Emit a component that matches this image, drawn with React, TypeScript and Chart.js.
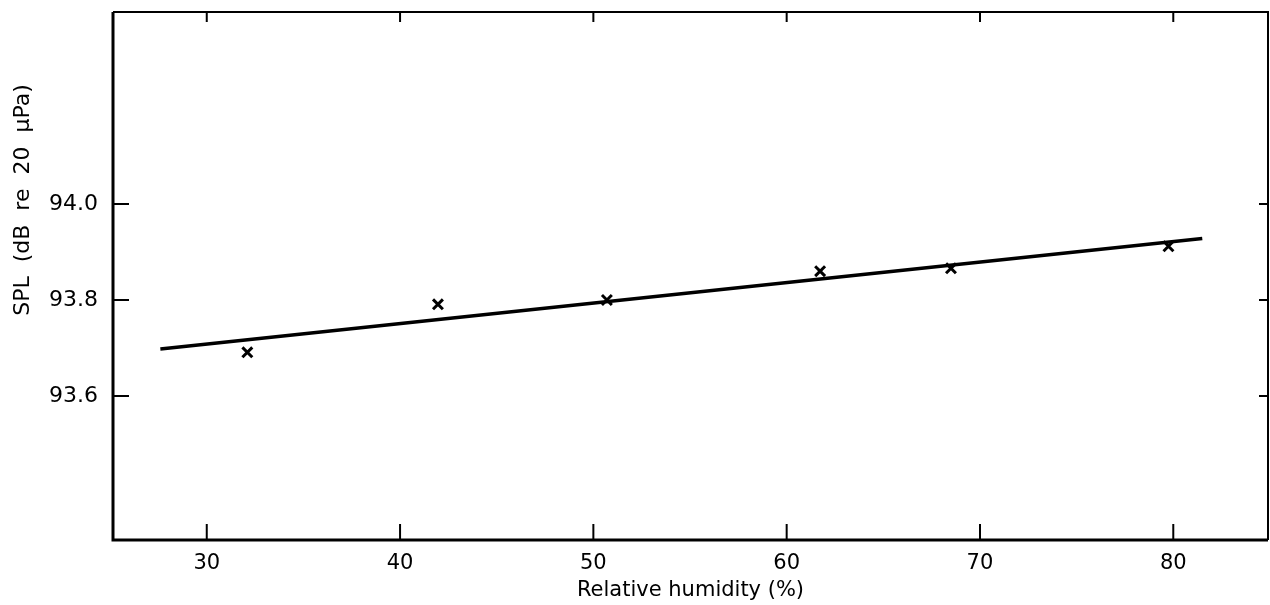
import React, { useEffect, useRef } from "react";
import { Chart, registerables } from "chart.js";

Chart.register(...registerables);

// Data
const humidity = [32.1, 41.96, 50.7, 61.73, 68.5, 79.75];
const spl = [93.691, 93.791, 93.8, 93.86, 93.866, 93.912];
// Fitted line end points
const fitX = [27.6, 81.5];
const fitY = [93.698, 93.928];
// Tick values
const xTicks = [30, 40, 50, 60, 70, 80];
const yTicks = [93.6, 93.8, 94.0];

const FONT = "'DejaVu Sans', sans-serif";

const framePlugin = {
  id: "frameAndTicks",
  afterDraw(chart: any) {
    const { ctx, chartArea, scales } = chart;
    const { left, right, top, bottom } = chartArea;
    ctx.save();
    ctx.strokeStyle = "#000";
    ctx.lineCap = "butt";
    // frame
    ctx.lineWidth = 3;
    ctx.beginPath();
    ctx.moveTo(left, top);
    ctx.lineTo(left, bottom);
    ctx.lineTo(right, bottom);
    ctx.stroke();
    ctx.lineWidth = 2;
    ctx.beginPath();
    ctx.moveTo(left, top);
    ctx.lineTo(right, top);
    ctx.lineTo(right, bottom);
    ctx.stroke();
    // x ticks (inward)
    ctx.lineWidth = 2;
    for (const v of xTicks) {
      const px = scales.x.getPixelForValue(v);
      ctx.beginPath();
      ctx.moveTo(px, bottom);
      ctx.lineTo(px, bottom - 16);
      ctx.stroke();
      ctx.beginPath();
      ctx.moveTo(px, top);
      ctx.lineTo(px, top + 10);
      ctx.stroke();
    }
    for (const v of yTicks) {
      const py = scales.y.getPixelForValue(v);
      ctx.beginPath();
      ctx.moveTo(left, py);
      ctx.lineTo(left + 16, py);
      ctx.stroke();
      ctx.beginPath();
      ctx.moveTo(right, py);
      ctx.lineTo(right - 9, py);
      ctx.stroke();
    }
    // y axis title
    ctx.fillStyle = "#000";
    ctx.font = `22px ${FONT}`;
    ctx.textAlign = "center";
    ctx.textBaseline = "middle";
    ctx.translate(23, 200);
    ctx.rotate(-Math.PI / 2);
    ctx.fillText("SPL  (dB  re  20  μPa)", 0, 0);
    ctx.restore();
  },
};

export default function App() {
  const ref = useRef<HTMLCanvasElement>(null);
  useEffect(() => {
    document.body.style.margin = "0";
    const canvas = ref.current!;
    const chart = new Chart(canvas, {
      type: "scatter",
      data: {
        datasets: [
          {
            type: "line",
            data: fitX.map((x, i) => ({ x, y: fitY[i] })),
            borderColor: "#000",
            borderWidth: 3.5,
            pointRadius: 0,
            fill: false,
          } as any,
          {
            type: "scatter",
            data: humidity.map((x, i) => ({ x, y: spl[i] })),
            pointStyle: "crossRot",
            pointRadius: 7,
            borderColor: "#000",
            borderWidth: 3,
            backgroundColor: "#000",
          } as any,
        ],
      },
      options: {
        responsive: false,
        animation: false,
        events: [],
        layout: { autoPadding: false, padding: { top: 12, right: 2, left: 0, bottom: 0 } },
        plugins: { legend: { display: false }, tooltip: { enabled: false } },
        scales: {
          x: {
            type: "linear",
            min: 25.15,
            max: 84.9,
            afterBuildTicks: (s: any) => {
              s.ticks = xTicks.map((v) => ({ value: v }));
            },
            afterFit: (s: any) => {
              s.height = 65;
              s.paddingLeft = 0;
              s.paddingRight = 0;
            },
            grid: { display: false },
            border: { display: false },
            ticks: {
              color: "#000",
              font: { family: FONT, size: 21 },
              padding: 3,
              maxRotation: 0,
              callback: (v: any) => String(v),
            },
            title: {
              display: true,
              text: "Relative humidity (%)",
              color: "#000",
              font: { family: FONT, size: 21 },
              padding: { top: 0, bottom: 2 },
            },
          },
          y: {
            type: "linear",
            min: 93.3,
            max: 94.4,
            afterBuildTicks: (s: any) => {
              s.ticks = yTicks.map((v) => ({ value: v }));
            },
            afterFit: (s: any) => {
              s.width = 113;
              s.paddingTop = 0;
              s.paddingBottom = 0;
            },
            grid: { display: false },
            border: { display: false },
            ticks: {
              color: "#000",
              font: { family: FONT, size: 22 },
              padding: 7,
              callback: (v: any) => Number(v).toFixed(1),
            },
          },
        },
      },
      plugins: [framePlugin],
    });
    return () => chart.destroy();
  }, []);
  return (
    <div style={{ width: 1270, height: 605, background: "#fff" }}>
      <canvas ref={ref} width={1270} height={605} />
    </div>
  );
}
